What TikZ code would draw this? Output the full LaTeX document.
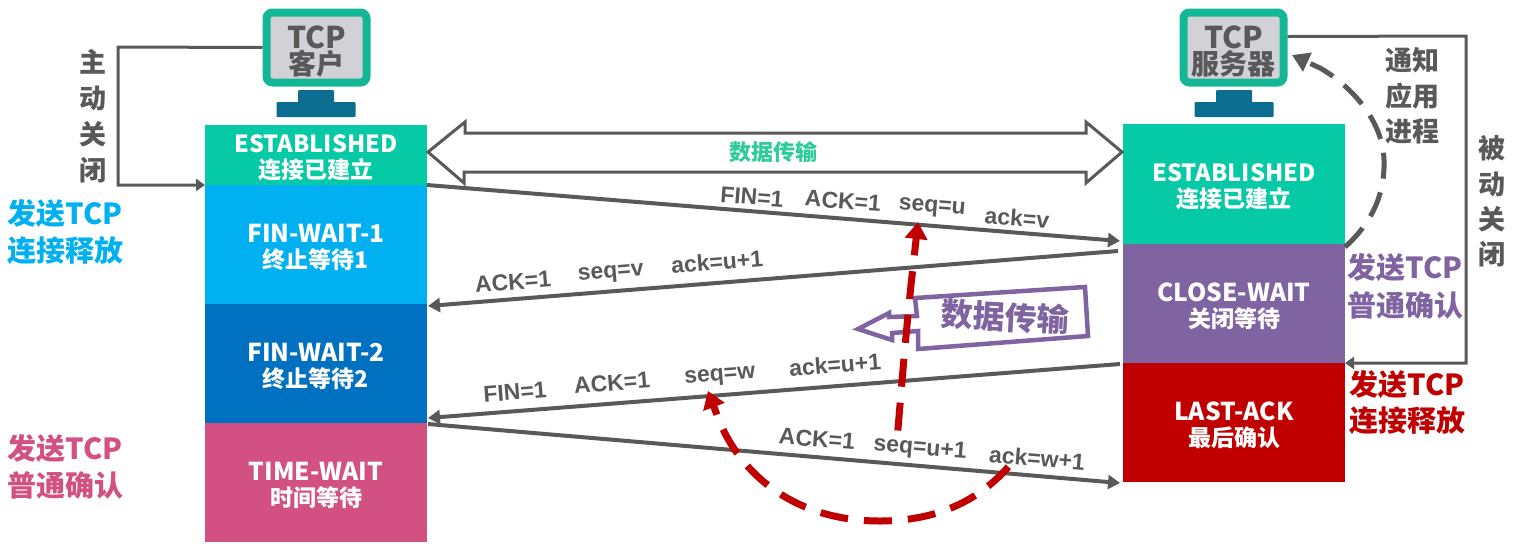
\documentclass[tikz,border=0pt]{standalone}
\usepackage{fontspec}
\setmainfont{Noto Sans CJK SC}
\newfontfamily\lab{Liberation Sans}
\usetikzlibrary{arrows.meta,calc}
\definecolor{tealc}{HTML}{06C9A5}
\definecolor{bluea}{HTML}{00B0F0}
\definecolor{blueb}{HTML}{0070C0}
\definecolor{pinkc}{HTML}{D25082}
\definecolor{purp}{HTML}{8064A2}
\definecolor{redc}{HTML}{C00000}
\definecolor{mong}{HTML}{14B795}
\definecolor{scr}{HTML}{D2D2D6}
\definecolor{stand}{HTML}{0B6E90}
\definecolor{greyc}{HTML}{595959}
\definecolor{greent}{HTML}{2FCB9C}
\newcommand{\fs}[1]{\fontsize{#1}{#1}\selectfont}
\newcommand{\st}[3][24.6]{\rule{0pt}{24pt}{\fontsize{#1}{26}\selectfont\bfseries #2}\\{\fontsize{23}{26}\selectfont\bfseries #3}}
\tikzset{
  statebox/.style={inner sep=0pt,outer sep=0pt,minimum width=222pt,text=white,align=center,font=\fontsize{23}{26}\selectfont},
  monitor/.style={draw=mong,line width=8pt,fill=scr,rounded corners=6pt,inner sep=0pt,minimum width=100pt,minimum height=70pt,align=center,text=greyc,font=\fontsize{28}{26}\selectfont},
  standpart/.style={fill=stand,inner sep=0pt,outer sep=0pt,rounded corners=1pt},
  conn/.style={draw=greyc,line width=4pt,-{Triangle[length=12pt,width=14pt]}},
  elbow/.style={draw=greyc,line width=3pt,-{Triangle[length=9pt,width=12pt]}},
  msg/.style={font=\lab\bfseries\fs{23},text=greyc,inner sep=0pt},
  side/.style={font=\bfseries\fs{27},text=greyc,inner sep=0pt},
  note/.style={font=\bfseries\fs{29},inner sep=0pt,align=center},
  reddash/.style={draw=redc,line width=7pt,dash pattern=on 28pt off 16pt,-{Triangle[length=17pt,width=22pt]}},
  greydash/.style={draw=greyc,line width=5pt,dash pattern=on 26pt off 14pt,-{Triangle[length=17pt,width=20pt]}},
  hollow/.style={draw=greyc,line width=3pt,fill=white,line join=miter}
}
\begin{document}
\begin{tikzpicture}[x=1pt,y=-1pt]
\useasboundingbox (0,0) rectangle (1513,550);
% state columns
\node[statebox,fill=tealc,minimum height=60pt] (est1) at (316,155) {\st[23.6]{ESTABLISHED}{连接已建立}};
\node[statebox,fill=bluea,minimum height=119pt] (fin1) at (316,244.5) {\st{FIN-WAIT-1}{终止等待1}};
\node[statebox,fill=blueb,minimum height=119pt] (fin2) at (316,363.5) {\st{FIN-WAIT-2}{终止等待2}};
\node[statebox,fill=pinkc,minimum height=119pt] (tw) at (316,482.5) {\st{TIME-WAIT}{时间等待}};
\node[statebox,fill=tealc,minimum height=120pt] (srvest) at (1234,184) {\st[23.6]{ESTABLISHED}{连接已建立}};
\node[statebox,fill=purp,minimum height=119pt] (close) at (1234,303.5) {\st{CLOSE-WAIT}{关闭等待}};
\node[statebox,fill=redc,minimum height=119pt] (last) at (1234,422.5) {\st{LAST-ACK}{最后确认}};
% monitors
\node[standpart,minimum width=36pt,minimum height=14pt] (cneck) at (316,97) {};
\node[standpart,minimum width=79pt,minimum height=15pt] (cbase) at (316,109.5) {};
\node[standpart,minimum width=36pt,minimum height=14pt] (sneck) at (1234,97) {};
\node[standpart,minimum width=79pt,minimum height=15pt] (sbase) at (1234,109.5) {};
\node[monitor] (client) at (316.5,47.5) {\rule{0pt}{30pt}{\fontsize{30}{26}\selectfont\bfseries TCP}\\{\bfseries 客户}};
\node[monitor] (server) at (1233.5,47.5) {\rule{0pt}{30pt}{\fontsize{30}{26}\selectfont\bfseries TCP}\\{\bfseries 服务器}};
% elbows
\draw[elbow] (client.west) -- (118,47) -- (118,185) -- (est1.south west);
\draw[elbow] ($(server.east)+(0,-11)$) -- (1466,36) -- (1466,363) -- (close.south east);
% data transfer hollow arrow
\coordinate (dl) at ($(est1.east)+(1,-3)$);
\coordinate (dr) at ($(srvest.west)+(-1,-32)$);
\draw[hollow] (dl) -- ++(37,-30) -- ++(0,11) -- (1086,133) -- (1086,122) -- (dr) -- (1086,183) -- (1086,172) -- (464,172) -- (464,183) -- cycle;
\node[font=\bfseries\fs{22},text=greent,inner sep=0pt] (dtx) at (773,152) {数据传输};
% messages
\draw[conn] (est1.south east) -- ($(srvest.south west)+(-3,-3)$);
\draw[conn] ($(srvest.south west)+(-5,7)$) -- ($(fin1.south east)+(1,2)$);
\draw[conn] ($(close.south west)+(-3,1)$) -- ($(fin2.south east)+(1,-5)$);
\draw[conn] ($(fin2.south east)+(1,1)$) -- ($(last.south west)+(-3,1)$);
\begin{scope}[every node/.append style={msg}]
\node[rotate=-4.6] (m1) at (752,197) {FIN=1};
\node[rotate=-4.6] (m2) at (843,201) {ACK=1};
\node[rotate=-4.6] (m3) at (932,208) {seq=u};
\node[rotate=-4.6] (m4) at (1017,218) {ack=v};
\node[rotate=4.6] (m5) at (513,282) {ACK=1};
\node[rotate=4.6] (m6) at (611,274) {seq=v};
\node[rotate=4.6] (m7) at (717,262) {ack=u+1};
\node[rotate=4.6] (m8) at (515,392) {FIN=1};
\node[rotate=4.6] (m9) at (612,383) {ACK=1};
\node[rotate=4.6] (m10) at (720,377) {seq=w};
\node[rotate=4.6] (m11) at (835,365) {ack=u+1};
\node[rotate=-4.6] (m12) at (817,439) {ACK=1};
\node[rotate=-4.6] (m13) at (920,449) {seq=u+1};
\node[rotate=-4.6] (m14) at (1037,458) {ack=w+1};
\end{scope}
% callout
\draw[draw=purp,line width=4.5pt,fill=white,line join=miter] (915,298) -- (1085,287) -- (1088,336) -- (918,349) -- (918,331) -- (892,333) -- (892,340) -- (858,329) -- (889,313) -- (889,317) -- (917,316) -- cycle;
\node[font=\bfseries\fs{32},text=purp,inner sep=0pt,rotate=-3] (dt2) at (1005,317) {数据传输};
% dashed feedback
\coordinate (ra) at ($(m14.south west)+(20,4)$);
\draw[reddash] (ra) .. controls (975,505) and (930,521) .. (880,521) .. controls (800,521) and (745,480) .. (720,423) -- (708,391);
\draw[reddash] ($(m13.north)+(-23,-8)$) .. controls (902,380) and (908,310) .. (913,267) -- (918,222);
\draw[greydash] ($(srvest.south east)+(0,3)$) .. controls (1375,220) and (1385,190) .. (1384,160) .. controls (1383,120) and (1350,85) .. (1320,68) -- (1292,55);
% side text
\node[side] (a1) at (93,62) {主};
\node[side] (a2) at (93,98) {动};
\node[side] (a3) at (93,134) {关};
\node[side] (a4) at (93,170) {闭};
\node[side] (b1) at (1492,148) {被};
\node[side] (b2) at (1492,184) {动};
\node[side] (b3) at (1492,219) {关};
\node[side] (b4) at (1492,254) {闭};
\node[side] (c1) at (1412,60) {通知};
\node[side] (c2) at (1412,96) {应用};
\node[side] (c3) at (1412,131) {进程};
% notes
\node[note,text=bluea] (n1) at (65,214) {发送TCP};
\node[note,text=bluea] (n2) at (65,251) {连接释放};
\node[note,text=pinkc] (n3) at (65,448) {发送TCP};
\node[note,text=pinkc] (n4) at (65,485) {普通确认};
\node[note,text=purp] (n5) at (1405,268) {发送TCP};
\node[note,text=purp] (n6) at (1405,305) {普通确认};
\node[note,text=redc] (n7) at (1407,384) {发送TCP};
\node[note,text=redc] (n8) at (1407,421) {连接释放};
\end{tikzpicture}
\end{document}
